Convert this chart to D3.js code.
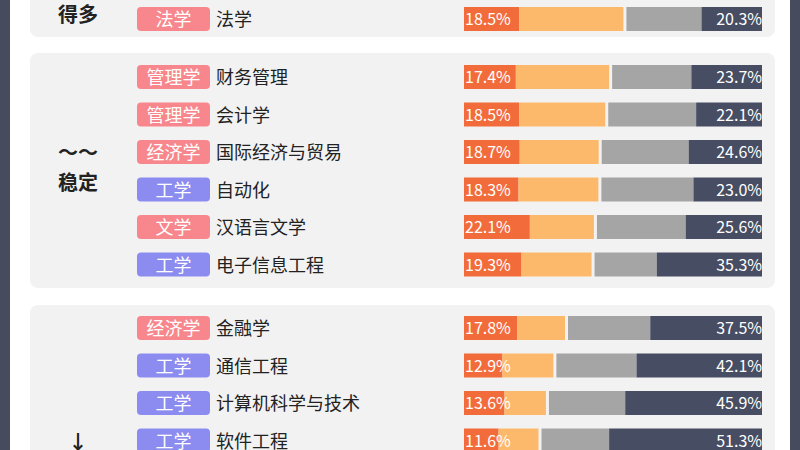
<!DOCTYPE html>
<html><head><meta charset="utf-8">
<script src="https://cdn.jsdelivr.net/npm/d3@7"></script>
<style>body{margin:0;background:#474b5e;}text{font-family:"Noto Sans CJK SC","Noto Sans",sans-serif;}</style>
</head><body><div id="chart"></div>
<script>
var majors = ["法学","财务管理","会计学","国际经济与贸易","自动化","汉语言文学","电子信息工程","金融学","通信工程","计算机科学与技术","软件工程"];
var fields = ["法学","管理学","管理学","经济学","工学","文学","工学","经济学","工学","工学","工学"];
var groups = [0,1,1,1,1,1,1,2,2,2,2];
var redVals = [18.5,17.4,18.5,18.7,18.3,22.1,19.3,17.8,12.9,13.6,11.6];
var orangeVals = [35.0,31.3,28.9,26.5,26.8,21.5,23.5,16.1,17.1,13.9,13.4];
var navyVals = [20.3,23.7,22.1,24.6,23.0,25.6,35.3,37.5,42.1,45.9,51.3];
var groupNames = [["得多"],["〜〜","稳定"],["↓"]];

var svg = d3.select("#chart").append("svg").attr("width",800).attr("height",450);
svg.append("rect").attr("x",10).attr("y",0).attr("width",780).attr("height",450).attr("fill","#ffffff");

var y = d3.scaleLinear().domain([0,1]).range([19,56.5]);
function rowY(i){ return y(i) + (groups[i]>=1?20.5:0) + (groups[i]>=2?26:0); }

var panels = [[-20,37],[53,288],[305,480]];
svg.selectAll(".panel").data(panels).enter().append("rect")
  .attr("x",30).attr("y",d=>d[0]).attr("width",745).attr("height",d=>d[1]-d[0])
  .attr("rx",8).attr("fill","#f2f2f2");

var gy = [[22],[160,190],[450]];
groupNames.forEach(function(g,gi){
  g.forEach(function(t,k){
    svg.append("text").attr("x",78).attr("y",gy[gi][k]).attr("text-anchor","middle")
      .attr("font-size",20).attr("font-weight","bold").attr("fill","#222").text(t);
  });
});

var x = d3.scaleLinear().domain([0,100]).range([464,762]);
var tagColor = f => f==="工学" ? "#8c8bef" : "#f7878c";

var rows = svg.selectAll(".row").data(majors).enter().append("g")
  .attr("transform",(d,i)=>`translate(0,${rowY(i)})`);
rows.append("rect").attr("x",137).attr("y",-12).attr("width",73).attr("height",24).attr("rx",4)
  .attr("fill",(d,i)=>tagColor(fields[i]));
rows.append("text").attr("x",173.5).attr("y",7).attr("text-anchor","middle").attr("font-size",18)
  .attr("fill","#fff").text((d,i)=>fields[i]);
rows.append("text").attr("x",216).attr("y",7).attr("font-size",18).attr("fill","#222").text(d=>d);

rows.each(function(d,i){
  var g = d3.select(this);
  var r = redVals[i], o = orangeVals[i], n = navyVals[i];
  var segs = [[0,r,"#f26c3b"],[r,r+o,"#fdb96b"],[r+o,100-n,"#a5a5a5"],[100-n,100,"#474d63"]];
  segs.forEach(function(s,k){
    var x0 = x(s[0]) + (k===2?3:0);
    g.append("rect").attr("x",x0).attr("y",-12).attr("width",x(s[1])-x0).attr("height",24).attr("fill",s[2]);
  });
  g.append("text").attr("x",x(0)+1).attr("y",6).attr("font-size",16).attr("fill","#fff").text(r.toFixed(1)+"%");
  g.append("text").attr("x",x(100)).attr("y",6).attr("text-anchor","end").attr("font-size",16).attr("fill","#fff").text(n.toFixed(1)+"%");
});
</script></body></html>
